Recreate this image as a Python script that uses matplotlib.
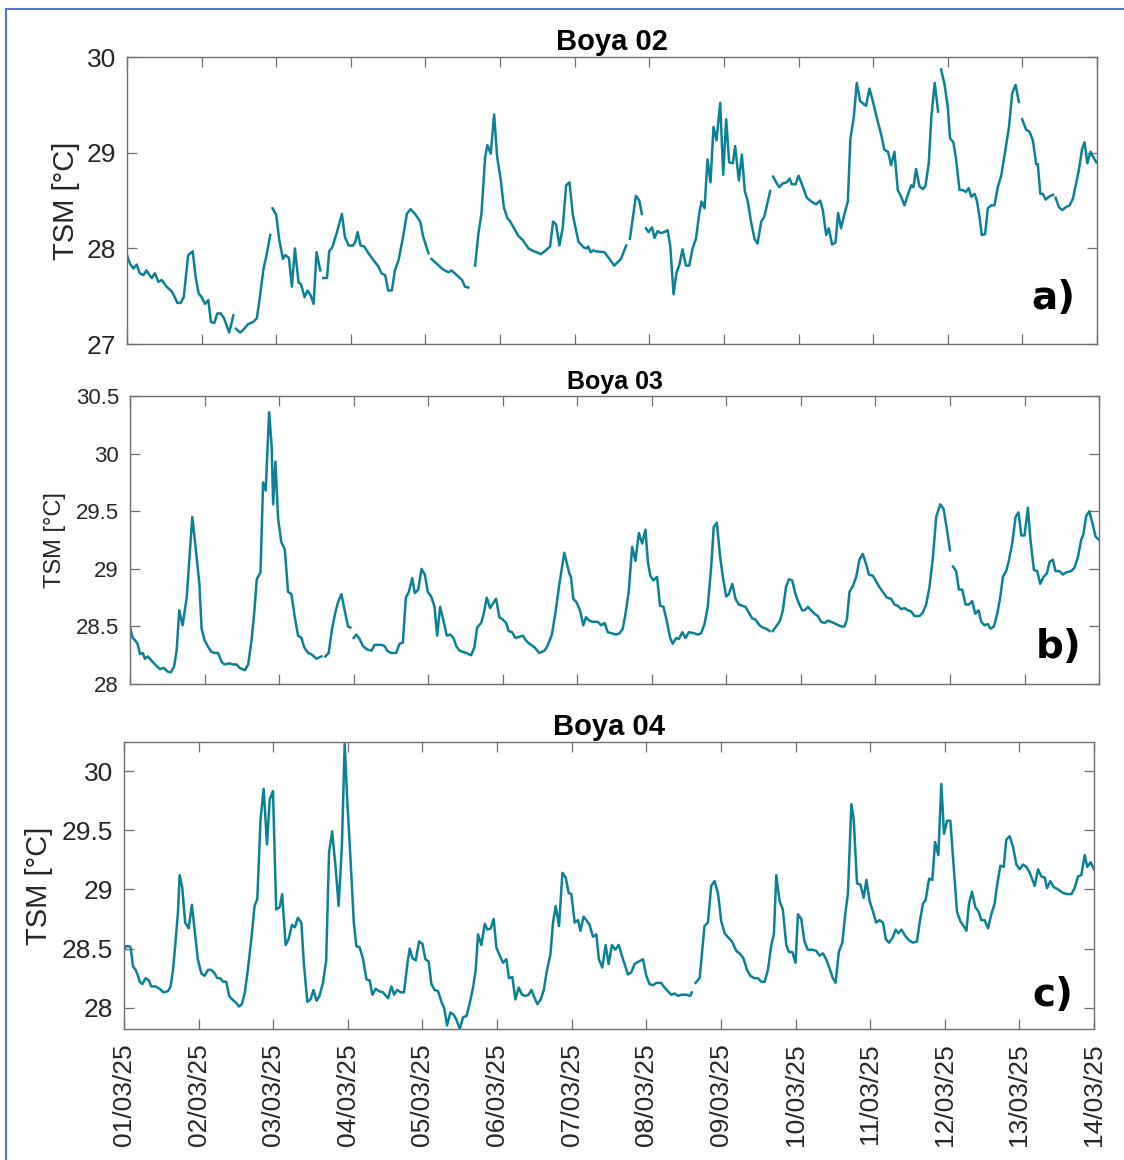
#!/usr/bin/env python3
"""TSM time series for buoys 02, 03 and 04 (01/03/25 - 14/03/25)."""

import matplotlib
matplotlib.use("Agg")
import matplotlib.pyplot as plt
import matplotlib.dates as mdates
from matplotlib.patches import Rectangle
import numpy as np

nan = np.nan

# Days since 01/03/2025 00:00, nan marks a gap in the record
b02_day = [0.00, 0.04, 0.085, 0.13, 0.17, 0.22, 0.26, 0.33, 0.375, 0.42, 0.465, 0.53, 0.60, 0.64, 0.675, 0.72,
           0.76, 0.82, 0.88, 0.92, 0.96, 1.00, 1.045, 1.09, 1.125, 1.17, 1.21, 1.255, 1.30, 1.37, 1.425, nan,
           1.46, 1.515, 1.56, 1.625, 1.69, 1.74, 1.78, 1.83, 1.87, 1.92, nan,
           1.95, 2.00, 2.04, 2.09, 2.12, 2.17, 2.21, 2.25, 2.30, 2.33, 2.38, 2.42, 2.46, 2.50, 2.54, 2.59, nan,
           2.63, 2.68, 2.71, 2.75, 2.81, 2.88, 2.92, 2.97, 3.03, 3.06, 3.09, 3.13, 3.18, 3.235, 3.30, 3.37, 3.41,
           3.46, 3.50, 3.55, 3.59, 3.64, 3.70, 3.75, 3.80, 3.86, 3.93, 3.97, 4.04, nan,
           4.08, 4.15, 4.22, 4.26, 4.31, 4.35, 4.42, 4.49, 4.53, 4.575, nan,
           4.665, 4.71, 4.75, 4.80, 4.83, 4.875, 4.92, 4.96, 5.01, 5.05, 5.10, 5.13, 5.18, 5.245, 5.30, 5.38,
           5.45, 5.49, 5.545, 5.60, 5.67, 5.71, 5.75, 5.795, 5.84, 5.885, 5.93, 5.975, 6.05, 6.12, 6.16, 6.18,
           6.215, 6.25, nan,
           6.28, 6.40, 6.53, 6.62, 6.69, nan,
           6.74, 6.82, 6.865, 6.90, nan,
           6.955, 6.99, 7.035, 7.07, 7.11, 7.155, 7.20, 7.245, 7.28, 7.325, 7.365, 7.40, 7.445, 7.49, 7.535,
           7.58, 7.625, 7.67, 7.70, 7.74, 7.78, 7.82, 7.86, 7.90, 7.95, 7.99, 8.03, 8.07, 8.12, 8.15, 8.20,
           8.24, 8.28, 8.32, 8.36, 8.41, 8.45, 8.50, 8.54, 8.62, nan,
           8.66, 8.70, 8.74, 8.79, 8.84, 8.88, 8.91, 8.96, 9.00, 9.06, 9.11, 9.17, 9.235, 9.29, 9.325, 9.37,
           9.405, 9.45, 9.495, 9.53, 9.57, 9.615, 9.66, 9.695, 9.74, 9.78, 9.825, 9.905, 9.95, 9.995, 10.05,
           10.11, 10.15, 10.20, 10.24, 10.285, 10.33, 10.375, 10.42, 10.465, 10.51, 10.54, 10.575, 10.62,
           10.665, 10.70, 10.745, 10.78, 10.825, 10.87, nan,
           10.91, 10.955, 11.00, 11.03, 11.075, 11.11, 11.157, 11.20, 11.24, 11.28, 11.315, 11.36, 11.39,
           11.425, 11.455, 11.50, 11.537, 11.58, 11.626, 11.67, 11.716, 11.76, 11.82, 11.863, 11.908, 11.953, nan,
           11.997, 12.05, 12.095, 12.14, 12.185, 12.207, 12.24, 12.275, 12.31, 12.355, 12.41, nan,
           12.445, 12.49, 12.534, 12.58, 12.632, 12.677, 12.72, 12.757, 12.80, 12.833, 12.87, 12.914, 12.945, 12.99]
b02_tsm = [27.93, 27.84, 27.79, 27.83, 27.74, 27.72, 27.77, 27.69, 27.74, 27.65, 27.67, 27.60, 27.55, 27.49, 27.43,
           27.43, 27.49, 27.93, 27.97, 27.70, 27.53, 27.49, 27.42, 27.46, 27.23, 27.22, 27.32, 27.32, 27.27, 27.12,
           27.30, nan,
           27.16, 27.12, 27.15, 27.21, 27.23, 27.27, 27.49, 27.79, 27.93, 28.14, nan,
           28.42, 28.35, 28.09, 27.89, 27.93, 27.90, 27.60, 28.00, 27.64, 27.63, 27.49, 27.56, 27.51, 27.42, 27.96,
           27.77, nan,
           27.69, 27.69, 27.97, 28.01, 28.16, 28.36, 28.12, 28.03, 28.03, 28.07, 28.17, 28.03, 28.02, 27.95, 27.88,
           27.81, 27.74, 27.72, 27.56, 27.56, 27.77, 27.88, 28.12, 28.36, 28.41, 28.36, 28.28, 28.12, 27.95, nan,
           27.89, 27.84, 27.79, 27.77, 27.75, 27.77, 27.72, 27.67, 27.60, 27.59, nan,
           27.82, 28.16, 28.36, 28.96, 29.08, 28.99, 29.40, 28.96, 28.71, 28.43, 28.31, 28.29, 28.22, 28.13, 28.09,
           28.00, 27.97, 27.96, 27.94, 27.97, 28.02, 28.28, 28.25, 28.03, 28.22, 28.66, 28.69, 28.35, 28.07, 28.01,
           28.00, 28.02, 27.96, 27.98, nan,
           27.97, 27.96, 27.82, 27.89, 28.03, nan,
           28.10, 28.55, 28.50, 28.36, nan,
           28.21, 28.17, 28.22, 28.11, 28.18, 28.16, 28.17, 28.19, 28.03, 27.52, 27.75, 27.82, 27.99, 27.82, 27.82,
           28.00, 28.10, 28.37, 28.49, 28.42, 28.93, 28.69, 29.27, 29.13, 29.52, 28.77, 29.35, 28.90, 28.89, 29.07,
           28.71, 28.98, 28.60, 28.49, 28.29, 28.10, 28.05, 28.28, 28.33, 28.60, nan,
           28.75, 28.69, 28.64, 28.68, 28.69, 28.73, 28.67, 28.67, 28.76, 28.64, 28.53, 28.49, 28.46, 28.50, 28.40,
           28.14, 28.21, 28.04, 28.06, 28.37, 28.21, 28.36, 28.49, 29.15, 29.37, 29.73, 29.54, 29.49, 29.67, 29.54,
           29.36, 29.18, 29.03, 29.01, 28.87, 29.01, 28.61, 28.54, 28.45, 28.56, 28.66, 28.64, 28.83, 28.65, 28.62,
           28.65, 28.89, 29.38, 29.73, 29.43, nan,
           29.87, 29.72, 29.48, 29.15, 29.11, 28.94, 28.61, 28.61, 28.59, 28.63, 28.54, 28.57, 28.50, 28.33, 28.14,
           28.15, 28.42, 28.45, 28.45, 28.64, 28.76, 28.97, 29.27, 29.62, 29.71, 29.53, nan,
           29.35, 29.24, 29.22, 29.13, 28.88, 28.88, 28.57, 28.57, 28.51, 28.54, 28.56, nan,
           28.53, 28.43, 28.40, 28.43, 28.45, 28.52, 28.68, 28.82, 29.04, 29.11, 28.89, 29.01, 28.96, 28.90]

b03_day = [0.00, 0.036, 0.067, 0.10, 0.134, 0.17, 0.20, 0.237, 0.28, 0.335, 0.40, 0.455, 0.50, 0.545, 0.59, 0.625,
           0.66, 0.705, 0.76, 0.835, 0.884, 0.93, 0.96, 1.00, 1.05, 1.09, 1.14, 1.18, 1.23, 1.27, 1.33, 1.38, 1.43,
           1.47, 1.54, 1.585, 1.63, 1.665, 1.70, 1.75, 1.785, 1.82, 1.866, 1.90, 1.92, 1.95, 1.987, 2.03, 2.076,
           2.12, 2.165, 2.21, 2.254, 2.30, 2.335, 2.39, 2.43, 2.50, 2.567, nan,
           2.62, 2.665, 2.71, 2.754, 2.79, 2.835, 2.88, 2.924, 2.955, nan,
           3.00, 3.036, 3.08, 3.125, 3.18, 3.24, 3.28, 3.37, 3.415, 3.45, 3.50, 3.57, 3.616, 3.66, 3.70, 3.74,
           3.786, 3.82, 3.866, 3.91, 3.955, 3.995, 4.04, 4.085, 4.12, 4.16, 4.205, 4.25, 4.295, 4.34, 4.375, 4.42,
           4.46, 4.51, 4.576, 4.62, 4.656, 4.71, 4.745, 4.786, 4.83, 4.91, 4.955, 5.00, 5.045, 5.08, 5.125, 5.17,
           5.27, 5.31, 5.357, 5.424, 5.49, 5.56, 5.60, 5.66, 5.705, 5.76, 5.826, 5.893, 5.915, 5.946, 5.99, 6.036,
           6.08, 6.116, 6.164, 6.21, 6.275, 6.32, 6.365, 6.41, 6.468, 6.52, 6.566, 6.61, 6.647, 6.69, 6.736, 6.78,
           6.826, 6.87, 6.915, 6.947, 6.98, 7.02, 7.07, 7.11, 7.157, 7.20, 7.246, 7.28, 7.327, 7.363, 7.41, 7.452,
           7.497, 7.573, 7.617, 7.66, 7.707, 7.75, 7.796, 7.83, 7.872, 7.917, 7.953, 7.998, 8.033, 8.08, 8.123,
           8.167, 8.212, 8.257, 8.302, 8.346, 8.39, 8.445, 8.49, 8.534, 8.58, nan,
           8.623, 8.668, 8.72, 8.758, 8.80, 8.838, 8.883, 8.928, 8.973, 9.017, 9.05, 9.093, 9.138, 9.183, 9.227,
           9.272, 9.317, 9.362, 9.406, 9.473, 9.54, 9.585, 9.617, 9.652, 9.697, 9.742, 9.786, 9.83, 9.876, 9.912,
           9.965, 10.01, 10.055, 10.10, 10.153, 10.21, 10.256, 10.30, 10.346, 10.39, 10.435, 10.48, 10.525, 10.59,
           10.636, 10.68, 10.725, 10.77, 10.815, 10.87, 10.914, 10.96, 11.00, nan,
           11.04, 11.083, 11.12, 11.164, 11.21, 11.253, 11.298, 11.34, 11.383, 11.42, 11.464, 11.508, 11.544,
           11.59, 11.634, 11.674, 11.71, 11.754, 11.79, 11.835, 11.88, 11.92, 11.956, 12.00, 12.045, 12.08,
           12.126, 12.17, 12.21, 12.255, 12.30, 12.336, 12.38, 12.416, 12.47, 12.515, 12.56, 12.626, 12.67,
           12.716, 12.76, 12.79, 12.828, 12.87, 12.91, 12.953, 13.0]
b03_tsm = [28.49, 28.40, 28.38, 28.35, 28.26, 28.27, 28.22, 28.24, 28.21, 28.17, 28.13, 28.14, 28.11, 28.10, 28.15,
           28.29, 28.64, 28.51, 28.75, 29.45, 29.16, 28.87, 28.48, 28.38, 28.32, 28.28, 28.27, 28.27, 28.19, 28.17,
           28.18, 28.17, 28.17, 28.14, 28.12, 28.17, 28.38, 28.61, 28.91, 28.97, 29.75, 29.68, 30.36, 30.06, 29.56,
           29.93, 29.43, 29.23, 29.17, 28.80, 28.78, 28.58, 28.42, 28.40, 28.32, 28.27, 28.26, 28.22, 28.24, nan,
           28.24, 28.27, 28.48, 28.62, 28.71, 28.78, 28.64, 28.50, 28.49, nan,
           28.40, 28.43, 28.39, 28.33, 28.30, 28.29, 28.34, 28.34, 28.33, 28.29, 28.27, 28.27, 28.35, 28.36, 28.75,
           28.80, 28.92, 28.79, 28.82, 29.00, 28.95, 28.80, 28.76, 28.67, 28.42, 28.67, 28.55, 28.42, 28.43, 28.40,
           28.33, 28.29, 28.28, 28.27, 28.25, 28.32, 28.49, 28.53, 28.61, 28.75, 28.66, 28.74, 28.58, 28.56, 28.53,
           28.46, 28.45, 28.40, 28.42, 28.38, 28.35, 28.32, 28.27, 28.29, 28.33, 28.43, 28.61, 28.87, 29.14, 28.96,
           28.93, 28.74, 28.71, 28.64, 28.51, 28.58, 28.55, 28.54, 28.54, 28.51, 28.53, 28.45, 28.44, 28.43, 28.44,
           28.48, 28.61, 28.80, 29.19, 29.07, 29.31, 29.22, 29.34, 29.06, 28.94, 28.90, 28.93, 28.68, 28.67, 28.55,
           28.40, 28.35, 28.40, 28.39, 28.45, 28.40, 28.45, 28.44, 28.43, 28.44, 28.52, 28.67, 29.01, 29.36, 29.40,
           29.10, 28.93, 28.76, 28.78, 28.87, 28.74, 28.69, 28.68, 28.67, 28.62, 28.57, 28.56, 28.51, 28.49, 28.48,
           28.46, nan,
           28.46, 28.50, 28.55, 28.64, 28.84, 28.91, 28.90, 28.78, 28.70, 28.64, 28.64, 28.67, 28.64, 28.61, 28.59,
           28.54, 28.53, 28.55, 28.54, 28.52, 28.50, 28.50, 28.56, 28.80, 28.85, 28.93, 29.08, 29.13, 29.04, 28.95,
           28.94, 28.89, 28.84, 28.80, 28.75, 28.74, 28.69, 28.68, 28.65, 28.66, 28.64, 28.63, 28.59, 28.59, 28.62,
           28.69, 28.84, 29.09, 29.45, 29.56, 29.52, 29.34, 29.16, nan,
           29.02, 28.98, 28.82, 28.82, 28.69, 28.69, 28.72, 28.61, 28.64, 28.54, 28.51, 28.52, 28.48, 28.50, 28.61,
           28.75, 28.93, 28.98, 29.07, 29.22, 29.45, 29.49, 29.29, 29.29, 29.53, 29.25, 28.99, 28.98, 28.87, 28.93,
           28.96, 29.06, 29.08, 28.98, 28.98, 28.95, 28.97, 28.98, 29.01, 29.10, 29.25, 29.30, 29.46, 29.50, 29.40,
           29.28, 29.25]

b04_day = [0.00, 0.03, 0.067, 0.09, 0.12, 0.156, 0.188, 0.21, 0.246, 0.29, 0.335, 0.366, 0.424, 0.478, 0.53, 0.59,
           0.625, 0.657, 0.69, 0.724, 0.746, 0.78, 0.82, 0.867, 0.91, 0.947, 0.99, 1.037, 1.08, 1.126, 1.17, 1.215,
           1.25, 1.29, 1.327, 1.37, 1.41, 1.45, 1.506, 1.54, 1.58, 1.62, 1.66, 1.707, 1.75, 1.787, 1.83, 1.872,
           1.917, 1.953, 1.997, 2.04, 2.087, 2.12, 2.167, 2.207, 2.25, 2.29, 2.33, 2.377, 2.41, 2.457, 2.50, 2.54,
           2.58, 2.62, 2.667, 2.71, 2.748, 2.79, 2.837, 2.877, 2.92, 2.958, 2.99, 3.034, 3.08, 3.114, 3.16, 3.204,
           3.25, 3.293, 3.33, 3.373, 3.418, 3.47, 3.54, 3.584, 3.62, 3.66, 3.71, 3.753, 3.80, 3.83, 3.865, 3.91,
           3.955, 4.00, 4.04, 4.084, 4.12, 4.164, 4.21, 4.254, 4.29, 4.33, 4.374, 4.42, 4.455, 4.50, 4.544, 4.59,
           4.634, 4.678, 4.714, 4.745, 4.79, 4.835, 4.87, 4.915, 4.955, 4.99, 5.036, 5.08, 5.125, 5.16, 5.205,
           5.246, 5.29, 5.335, 5.38, 5.424, 5.46, 5.505, 5.54, 5.585, 5.626, 5.67, 5.715, 5.75, 5.786, 5.83,
           5.876, 5.92, 5.96, 5.996, 6.04, 6.085, 6.117, 6.16, 6.197, 6.24, 6.285, 6.33, 6.365, 6.41, 6.455,
           6.495, 6.54, 6.584, 6.63, 6.673, 6.718, 6.754, 6.80, 6.843, 6.90, 6.955, 7.00, 7.044, 7.09, 7.134,
           7.20, 7.245, 7.29, 7.335, 7.38, 7.424, 7.47, 7.536, 7.59, 7.61, nan,
           7.66, 7.715, 7.78, 7.826, 7.87, 7.915, 7.96, 8.005, 8.05, 8.103, 8.148, 8.206, 8.25, 8.30, 8.35, 8.394,
           8.45, 8.496, 8.54, 8.586, 8.63, 8.675, 8.71, 8.742, 8.787, 8.83, 8.876, 8.912, 8.957, 9.00, 9.033,
           9.077, 9.12, 9.166, 9.225, 9.278, 9.323, 9.368, 9.41, 9.457, 9.50, 9.537, 9.58, 9.627, 9.67, 9.703,
           9.748, 9.78, 9.824, 9.87, 9.913, 9.95, 9.993, 10.04, 10.08, 10.127, 10.172, 10.21, 10.253, 10.30,
           10.342, 10.377, 10.42, 10.467, 10.52, 10.574, 10.628, 10.664, 10.708, 10.744, 10.79, 10.833, 10.87,
           10.914, 10.954, 10.99, 11.03, 11.075, 11.12, 11.164, 11.21, 11.253, 11.29, 11.325, 11.365, 11.41,
           11.455, 11.49, 11.535, 11.58, 11.624, 11.669, 11.70, 11.745, 11.79, 11.825, 11.87, 11.915, 11.96,
           12.004, 12.05, 12.094, 12.14, 12.205, 12.25, 12.294, 12.34, 12.37, 12.415, 12.46, 12.518, 12.585,
           12.64, 12.697, 12.74, 12.786, 12.83, 12.876, 12.91, 12.955, 13.0]
b04_tsm = [28.49, 28.52, 28.52, 28.51, 28.35, 28.32, 28.27, 28.22, 28.20, 28.25, 28.23, 28.18, 28.18, 28.16, 28.13,
           28.14, 28.18, 28.32, 28.55, 28.81, 29.12, 29.02, 28.72, 28.67, 28.87, 28.66, 28.41, 28.29, 28.27, 28.32,
           28.32, 28.29, 28.25, 28.25, 28.22, 28.22, 28.10, 28.07, 28.04, 28.01, 28.03, 28.13, 28.32, 28.58, 28.86,
           28.92, 29.59, 29.85, 29.38, 29.76, 29.83, 28.83, 28.85, 28.96, 28.53, 28.58, 28.70, 28.68, 28.76, 28.72,
           28.38, 28.05, 28.07, 28.15, 28.06, 28.10, 28.21, 28.40, 29.31, 29.49, 29.18, 28.86, 29.36, 30.23, 29.78,
           29.28, 28.72, 28.52, 28.51, 28.41, 28.24, 28.23, 28.11, 28.16, 28.14, 28.13, 28.08, 28.18, 28.11, 28.15,
           28.13, 28.13, 28.38, 28.50, 28.42, 28.40, 28.56, 28.54, 28.41, 28.39, 28.20, 28.15, 28.14, 28.05, 28.00,
           27.85, 27.96, 27.94, 27.90, 27.82, 27.92, 27.93, 28.04, 28.17, 28.32, 28.62, 28.53, 28.71, 28.66, 28.67,
           28.75, 28.51, 28.44, 28.38, 28.41, 28.25, 28.26, 28.07, 28.17, 28.11, 28.10, 28.11, 28.15, 28.08, 28.03,
           28.07, 28.15, 28.32, 28.45, 28.72, 28.86, 28.69, 29.14, 29.10, 28.97, 28.96, 28.72, 28.74, 28.65, 28.77,
           28.74, 28.70, 28.60, 28.62, 28.41, 28.34, 28.53, 28.37, 28.53, 28.49, 28.53, 28.44, 28.35, 28.28, 28.30,
           28.37, 28.39, 28.41, 28.27, 28.20, 28.19, 28.21, 28.21, 28.17, 28.14, 28.11, 28.12, 28.10, 28.11, 28.11,
           28.10, 28.13, nan,
           28.21, 28.25, 28.69, 28.72, 29.03, 29.07, 28.97, 28.73, 28.63, 28.59, 28.56, 28.48, 28.46, 28.42, 28.32,
           28.27, 28.25, 28.25, 28.22, 28.22, 28.32, 28.53, 28.62, 29.12, 28.90, 28.83, 28.53, 28.47, 28.47, 28.38,
           28.79, 28.75, 28.56, 28.49, 28.49, 28.48, 28.44, 28.46, 28.41, 28.33, 28.25, 28.21, 28.47, 28.55, 28.81,
           28.97, 29.72, 29.59, 29.05, 29.04, 28.93, 29.08, 28.90, 28.81, 28.72, 28.74, 28.72, 28.58, 28.55, 28.59,
           28.66, 28.63, 28.66, 28.61, 28.57, 28.55, 28.56, 28.72, 28.88, 28.91, 29.09, 29.08, 29.40, 29.29, 29.89,
           29.47, 29.58, 29.58, 29.19, 28.81, 28.73, 28.69, 28.65, 28.88, 28.98, 28.85, 28.81, 28.74, 28.74, 28.67,
           28.79, 28.88, 29.03, 29.20, 29.19, 29.42, 29.45, 29.36, 29.21, 29.17, 29.21, 29.19, 29.14, 29.03, 29.17,
           29.11, 29.10, 29.01, 29.07, 29.02, 29.00, 28.97, 28.96, 28.96, 29.01, 29.11, 29.12, 29.29, 29.19, 29.23,
           29.17]

TITLES = ["Boya 02", "Boya 03", "Boya 04"]
LETTERS = ["a)", "b)", "c)"]
YTICKS = [[27, 28, 29, 30], [28, 28.5, 29, 29.5, 30, 30.5], [28, 28.5, 29, 29.5, 30]]
YLIMS = [(27, 30), (28, 30.5), (27.82, 30.245)]

LINE = "#0b8196"
AXC = "#6e6e6e"
TXT = "#262626"
plt.rcParams["font.family"] = ["Liberation Sans", "DejaVu Sans"]

fig = plt.figure(figsize=(11.24, 11.6), dpi=100)
fig.patch.set_facecolor("white")

# axes boxes (left, bottom, width, height) per panel
boxes = [[0.1130, 0.7034, 0.8630, 0.2474],
         [0.1157, 0.4103, 0.8621, 0.2483],
         [0.1103, 0.1129, 0.8630, 0.2474]]
tick_fs = [19, 16, 19]
label_fs = [21, 17, 21]
title_fs = [21, 18, 21]
label_x = [-0.048, -0.066, -0.073]
letter_xy = [(0.955, 0.16), (0.958, 0.13), (0.958, 0.12)]

t0 = mdates.date2num(np.datetime64("2025-03-01"))
series = [(b02_day, b02_tsm), (b03_day, b03_tsm), (b04_day, b04_tsm)]

for i, (day, tsm) in enumerate(series):
    ax = fig.add_axes(boxes[i])
    x = t0 + np.array(day)
    ax.plot(x, np.array(tsm), color=LINE, linewidth=1.8)
    ax.set_xlim(t0, t0 + 13)
    ax.set_ylim(*YLIMS[i])
    ax.set_yticks(YTICKS[i])
    ax.yaxis.set_major_formatter(matplotlib.ticker.FormatStrFormatter("%g"))
    ax.xaxis.set_major_locator(mdates.DayLocator())
    ax.xaxis.set_major_formatter(mdates.DateFormatter("%d/%m/%y"))
    ax.tick_params(direction="in", length=7, width=0.9, color=AXC, top=True, right=True,
                   labelsize=tick_fs[i], labelcolor=TXT, pad=8)
    if i < 2:
        ax.tick_params(labelbottom=False)
    else:
        ax.tick_params(axis="x", pad=10)
        for lab in ax.get_xticklabels():
            lab.set_rotation(90)
    for s in ax.spines.values():
        s.set_color(AXC)
        s.set_linewidth(1.0)
    ax.set_title(TITLES[i], fontsize=title_fs[i], fontweight="bold", color="black", pad=5)
    ax.set_ylabel("TSM [°C]", fontsize=label_fs[i], color=TXT)
    ax.yaxis.set_label_coords(label_x[i], 0.5)
    ax.text(letter_xy[i][0], letter_xy[i][1], LETTERS[i], transform=ax.transAxes, ha="center", va="center",
            fontsize=28, fontweight="bold", family="DejaVu Sans", color="black")

# page frame seen in the screenshot
fig.patches.append(Rectangle((0.005, -0.02), 1.2, 1.012, transform=fig.transFigure, fill=False,
                             edgecolor="#4a78d0", linewidth=1.5, clip_on=False))

fig.savefig("out.png", dpi=100, facecolor="white")
